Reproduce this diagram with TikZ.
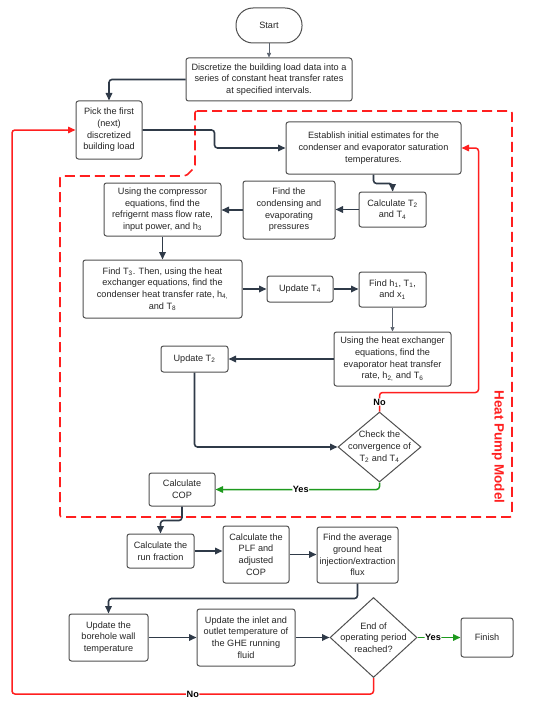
\documentclass[tikz,border=0pt]{standalone}
\usepackage{fontspec}
\setmainfont{Liberation Sans}
\usetikzlibrary{shapes.geometric,arrows.meta,calc}
\definecolor{arrc}{HTML}{2F3A48}
\definecolor{boxc}{HTML}{505050}
\definecolor{hpred}{HTML}{FF1F1F}
\definecolor{yesg}{HTML}{1E9A1E}
\newcommand{\sbs}[1]{\textsubscript{#1}}
\begin{document}
\begin{tikzpicture}[x=1bp,y=-1bp,
  box/.style={draw=boxc, line width=1bp, rounded corners=2.5bp, fill=white, align=center, inner sep=1bp, font=\fontsize{9.2}{11.7}\selectfont, text=black!85},
  dia/.style={draw=boxc, line width=1bp, shape=diamond, inner sep=0pt, fill=white},
  txt/.style={align=center, inner sep=0pt, font=\fontsize{9.2}{11.7}\selectfont, text=black!85},
  arr/.style={draw=arrc, line width=1.6bp, rounded corners=3bp, -{Triangle[length=7.5bp,width=6.5bp]}},
  thinarr/.style={draw=arrc!80, line width=0.6bp, -{Triangle[length=4.5bp,width=4bp]}},
  redl/.style={draw=hpred, line width=1.5bp, rounded corners=3bp, -{Triangle[length=7.5bp,width=6.5bp]}},
  grn/.style={draw=yesg, line width=1.5bp, rounded corners=3bp, -{Triangle[length=7.5bp,width=6.5bp]}},
  lab/.style={fill=white, inner sep=0.5bp, text=black, font=\bfseries\fontsize{9.2}{10}\selectfont},
]
\useasboundingbox[fill=white] (0,0) rectangle (550,706);

% Heat pump model region
\draw[hpred, line width=1.6bp, dash pattern=on 10bp off 5bp, rounded corners=2bp]
  (195,111) -- (512,111) -- (512,517) -- (60,517) -- (60,176) -- (186,176) -- (195,167) -- cycle;
\node[rotate=-90, text=hpred, inner sep=0pt, font=\bfseries\fontsize{13.5}{14}\selectfont] (hpm) at (498,447) {Heat Pump Model};

% nodes
\node[box, rounded corners=17bp, minimum width=66bp, minimum height=35bp] (start) at (269,25.5) {Start};
\node[box, minimum width=166bp, minimum height=43bp] (disc) at (269,79.5) {Discretize the building load data into a\\series of constant heat transfer rates\\at specified intervals.};
\node[box, minimum width=66bp, minimum height=58bp] (pick) at (109,130) {Pick the first\\(next)\\discretized\\building load};
\node[box, minimum width=175bp, minimum height=52bp] (est) at (373.5,148) {Establish initial estimates for the\\condenser and evaporator saturation\\temperatures.};
\node[box, minimum width=67bp, minimum height=35bp] (calct) at (392.5,209.5) {Calculate T\sbs{2}\\and T\sbs{4}};
\node[box, minimum width=92bp, minimum height=58bp] (cond) at (289,210) {Find the\\condensing and\\evaporating\\pressures};
\node[box, minimum width=117bp, minimum height=53bp] (comp) at (162.5,209.5) {Using the compressor\\equations, find the\\refrigernt mass flow rate,\\input power, and h\sbs{3}};
\node[box, minimum width=159bp, minimum height=58bp] (findt3) at (162.5,289) {Find T\sbs{3}. Then, using the heat\\exchanger equations, find the\\condenser heat transfer rate, h\sbs{4,}\\and T\sbs{8}};
\node[box, minimum width=66bp, minimum height=26bp] (updt4) at (300,289) {Update T\sbs{4}};
\node[box, minimum width=67bp, minimum height=35bp] (findh1) at (392.5,289.5) {Find h\sbs{1}, T\sbs{1},\\and x\sbs{1}};
\node[box, minimum width=117bp, minimum height=54bp] (hx) at (392.5,359) {Using the heat exchanger\\equations, find the\\evaporator heat transfer\\rate, h\sbs{2,} and T\sbs{6}};
\node[box, minimum width=67bp, minimum height=26bp] (updt2) at (194.5,359) {Update T\sbs{2}};
\node[dia, minimum width=83bp, minimum height=70bp] (conv) at (379.5,447) {};
\node[txt] (convt) at (conv.center) {Check the\\convergence of\\T\sbs{2} and T\sbs{4}};
\node[box, minimum width=66bp, minimum height=33bp] (cop) at (182,489.5) {Calculate\\COP};
\node[box, minimum width=67bp, minimum height=34bp] (runf) at (160.5,551) {Calculate the\\run fraction};
\node[box, minimum width=66bp, minimum height=57bp] (plf) at (256,554.5) {Calculate the\\PLF and\\adjusted\\COP};
\node[box, minimum width=81bp, minimum height=56bp] (avg) at (357.5,555) {Find the average\\ground heat\\injection/extraction\\flux};
\node[box, minimum width=79bp, minimum height=47bp] (bore) at (108.5,637.5) {Update the\\borehole wall\\temperature};
\node[box, minimum width=98bp, minimum height=57bp] (inlet) at (246,637.5) {Update the inlet and\\outlet temperature of\\the GHE running\\fluid};
\node[dia, minimum width=87bp, minimum height=80bp] (endp) at (373.5,637.5) {};
\node[txt] (endt) at (endp.center) {End of\\operating period\\reached?};
\node[box, minimum width=52bp, minimum height=39bp] (finish) at (487,637.5) {Finish};

\coordinate (loopl) at (12,694);

% connectors
\draw[thinarr] (start) -- (disc);
\draw[arr] (disc.west) -| (pick.north);
\draw[arr] (pick.east) -- ++(72,0) |- (est.west);
\draw[arr] (est.south) -- ++(0,9) -| (calct.north);
\draw[arr] (calct.west) -- (calct.west -| cond.east);
\draw[arr] (cond.west) -- (cond.west -| comp.east);
\draw[arr] (comp.south) -- (findt3.north);
\draw[arr] (findt3.east) -- (findt3.east -| updt4.west);
\draw[arr] (updt4.east) -- (updt4.east -| findh1.west);
\draw[thinarr] (findh1.south) -- (hx.north);
\draw[arr] (hx.west) -- (hx.west -| updt2.east);
\draw[arr] (updt2.south) |- (conv.west);
\draw[grn] (conv.south) |- (cop.east) node[lab, pos=0.74] {Yes};
\draw[redl] (conv.north) -- ++(0,-19) node[lab, midway] {No} -| ([xshift=17bp]est.east) -- (est.east);
\draw[arr] (cop.south) -- ++(0,14) -| (runf.north);
\draw[arr] (runf.east) -- (runf.east -| plf.west);
\draw[arr] (plf.east) -- (plf.east -| avg.west);
\draw[arr] (avg.south) -- ++(0,15) -| (bore.north);
\draw[arr] (bore.east) -- (inlet.west);
\draw[arr] (inlet.east) -- (endp.west);
\draw[grn] (endp.east) -- (finish.west) node[lab, pos=0.36] {Yes};
\draw[redl] (endp.south) |- (loopl) node[lab, pos=0.75] {No} |- (pick.west);
\end{tikzpicture}
\end{document}
